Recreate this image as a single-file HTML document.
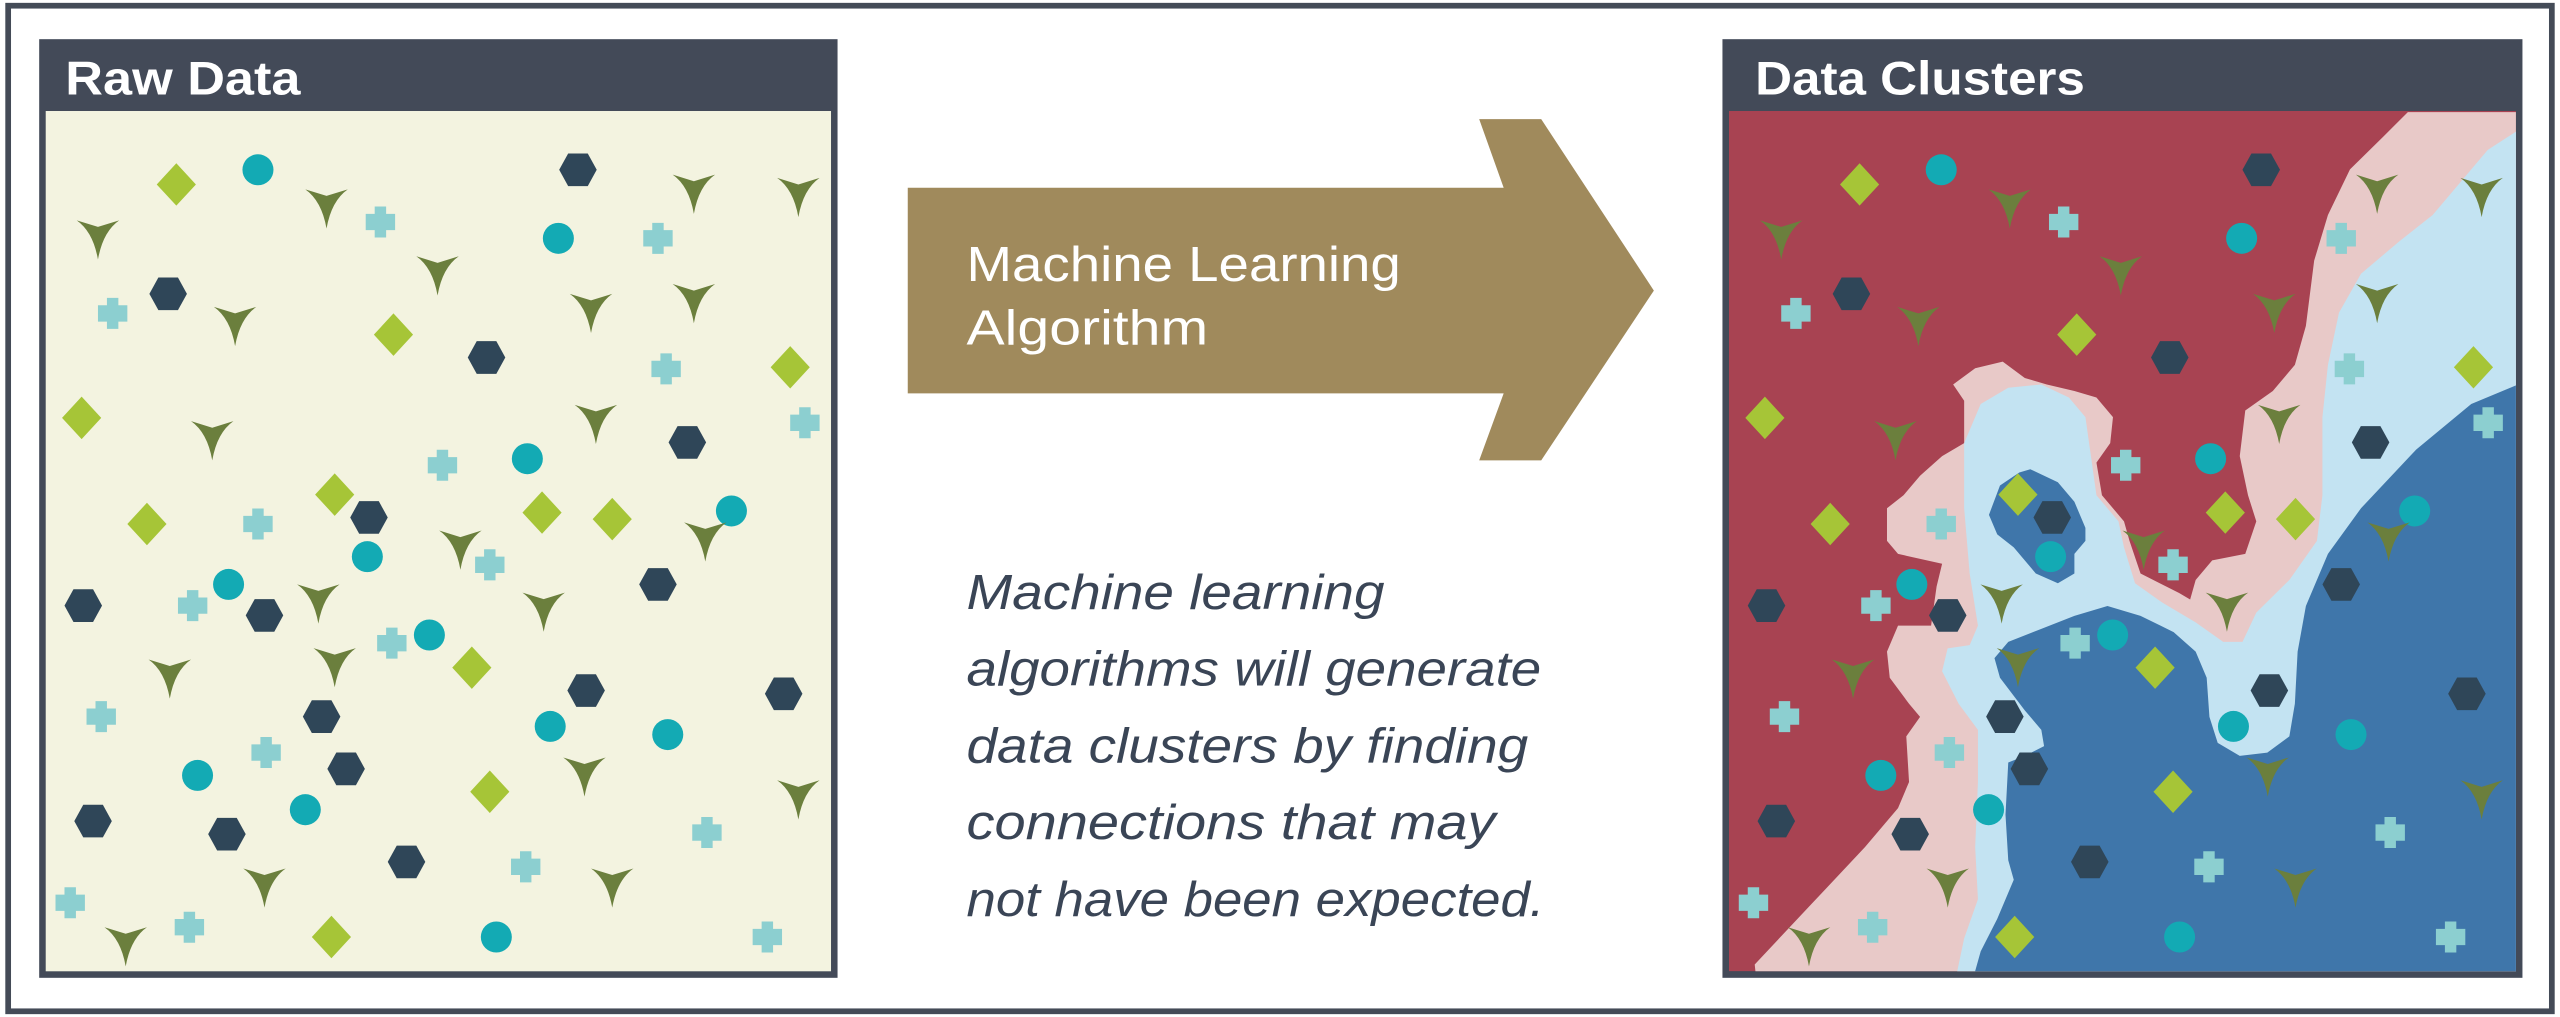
<!DOCTYPE html>
<html><head><meta charset="utf-8"><style>
html,body{margin:0;padding:0;background:#fff;width:2560px;height:1017px;overflow:hidden}
svg{display:block}
</style></head><body>
<svg width="2560" height="1017" viewBox="0 0 1568 623" preserveAspectRatio="none" xmlns="http://www.w3.org/2000/svg">
<defs>
<polygon id="dm" points="0,-13 12,0 0,13 -12,0" fill="#a6c537"/>
<circle id="ci" r="9.5" fill="#13aab4"/>
<polygon id="hx" points="-11.5,0 -6,-10 6,-10 11.5,0 6,10 -6,10" fill="#2f4658"/>
<polygon id="cr" points="-3.5,-9.5 3.5,-9.5 3.5,-5 9,-5 9,5 3.5,5 3.5,9.5 -3.5,9.5 -3.5,5 -9,5 -9,-5 -3.5,-5" fill="#8ccfd0"/>
<path id="yy" d="M-13,-10 L0,-6 L13,-10 Q3,-3 0,14 Q-3,-3 -13,-10 Z" fill="#6b7f3d"/>
<g id="pts">
<use href="#dm" x="108" y="113"/><use href="#dm" x="241" y="205"/><use href="#dm" x="50" y="256"/><use href="#dm" x="90" y="321"/><use href="#dm" x="205" y="303"/><use href="#dm" x="332" y="314"/><use href="#dm" x="375" y="318"/><use href="#dm" x="289" y="409"/><use href="#dm" x="484" y="225"/><use href="#dm" x="300" y="485"/><use href="#dm" x="203" y="574"/>
<use href="#ci" x="158" y="104"/><use href="#ci" x="342" y="146"/><use href="#ci" x="323" y="281"/><use href="#ci" x="448" y="313"/><use href="#ci" x="225" y="341"/><use href="#ci" x="140" y="358"/><use href="#ci" x="263" y="389"/><use href="#ci" x="337" y="445"/><use href="#ci" x="409" y="450"/><use href="#ci" x="121" y="475"/><use href="#ci" x="187" y="496"/><use href="#ci" x="304" y="574"/>
<use href="#hx" x="354" y="104"/><use href="#hx" x="103" y="180"/><use href="#hx" x="298" y="219"/><use href="#hx" x="421" y="271"/><use href="#hx" x="226" y="317"/><use href="#hx" x="162" y="377"/><use href="#hx" x="51" y="371"/><use href="#hx" x="403" y="358"/><use href="#hx" x="359" y="423"/><use href="#hx" x="197" y="439"/><use href="#hx" x="212" y="471"/><use href="#hx" x="480" y="425"/><use href="#hx" x="57" y="503"/><use href="#hx" x="139" y="511"/><use href="#hx" x="249" y="528"/>
<use href="#cr" x="233" y="136"/><use href="#cr" x="403" y="146"/><use href="#cr" x="69" y="192"/><use href="#cr" x="408" y="226"/><use href="#cr" x="493" y="259"/><use href="#cr" x="271" y="285"/><use href="#cr" x="158" y="321"/><use href="#cr" x="300" y="346"/><use href="#cr" x="118" y="371"/><use href="#cr" x="240" y="394"/><use href="#cr" x="62" y="439"/><use href="#cr" x="163" y="461"/><use href="#cr" x="433" y="510"/><use href="#cr" x="322" y="531"/><use href="#cr" x="43" y="553"/><use href="#cr" x="116" y="568"/><use href="#cr" x="470" y="574"/>
<use href="#yy" x="200" y="126"/><use href="#yy" x="60" y="145"/><use href="#yy" x="268" y="167"/><use href="#yy" x="489" y="119"/><use href="#yy" x="425" y="117"/><use href="#yy" x="144" y="198"/><use href="#yy" x="362" y="190"/><use href="#yy" x="425" y="184"/><use href="#yy" x="130" y="268"/><use href="#yy" x="365" y="258"/><use href="#yy" x="282" y="335"/><use href="#yy" x="432" y="330"/><use href="#yy" x="195" y="368"/><use href="#yy" x="333" y="373"/><use href="#yy" x="205" y="407"/><use href="#yy" x="104" y="414"/><use href="#yy" x="358" y="474"/><use href="#yy" x="489" y="488"/><use href="#yy" x="162" y="542"/><use href="#yy" x="375" y="542"/><use href="#yy" x="77" y="578"/>
</g>
<clipPath id="rc"><rect x="1059" y="68" width="482" height="527"/></clipPath>
</defs>

<rect x="5" y="3.5" width="1558" height="616" fill="none" stroke="#444b57" stroke-width="3.5"/>

<!-- left panel -->
<rect x="24" y="24" width="489" height="575" fill="#434a58"/>
<rect x="28" y="68" width="481" height="527" fill="#f3f3e0"/>
<text x="40" y="58" font-family="Liberation Sans, sans-serif" font-size="29" font-weight="bold" fill="#fff" textLength="144" lengthAdjust="spacingAndGlyphs">Raw Data</text>
<use href="#pts"/>

<!-- right panel -->
<rect x="1055" y="24" width="490" height="575" fill="#434a58"/>
<text x="1075" y="58" font-family="Liberation Sans, sans-serif" font-size="29" font-weight="bold" fill="#fff" textLength="202" lengthAdjust="spacingAndGlyphs">Data Clusters</text>
<g clip-path="url(#rc)">
<rect x="1059" y="68" width="482" height="527" fill="#a84352"/>
<g transform="translate(1041,0) scale(0.3376,0.3992)">
<polygon fill="#e8c9c8" points="1285,172 1240,210 1180,260 1140,330 1115,400 1100,500 1080,560 1040,600 990,630 980,700 995,760 1010,800 990,850 930,860 900,890 890,920 870,910 800,880 780,830 770,800 730,760 720,710 745,680 750,640 720,610 680,600 630,590 590,580 550,555 500,565 460,590 480,615 480,680 440,700 400,730 370,760 340,780 340,830 360,850 440,865 430,900 420,960 360,960 340,1000 345,1040 380,1080 400,1100 375,1130 380,1200 360,1240 300,1300 200,1390 100,1480 105,1520 1520,1520 1520,172"/>
<polygon fill="#c3e3f2" points="1520,190 1485,200 1430,230 1330,330 1270,370 1200,420 1160,480 1140,560 1130,640 1130,760 1120,830 1070,890 1010,940 985,985 950,985 900,955 840,925 790,895 770,840 760,800 720,760 710,700 700,640 670,610 620,590 560,595 510,620 480,680 480,780 490,880 505,960 490,990 450,995 440,1030 470,1080 505,1120 505,1200 500,1300 505,1380 480,1440 460,1520 1520,1520"/>
<polygon fill="#3f76aa" points="1520,580 1485,590 1400,620 1300,690 1200,780 1140,850 1100,930 1085,1000 1080,1080 1070,1130 1030,1155 980,1160 940,1140 925,1100 920,1040 900,1000 860,970 800,945 740,930 680,945 620,965 560,985 535,1010 545,1040 590,1090 620,1120 625,1145 590,1160 560,1170 555,1250 560,1320 570,1350 540,1410 510,1460 490,1520 1520,1520"/>
<polygon fill="#3f76aa" points="600,720 650,740 680,770 700,810 700,830 680,850 680,880 650,895 610,880 570,840 540,820 525,790 545,745 580,725"/>
</g>
<use href="#pts" x="1031"/>
</g>

<!-- arrow -->
<polygon points="556,115 921,115 906,73 944,73 1013,178 944,282 906,282 921,241 556,241" fill="#a08a5c"/>
<text font-family="Liberation Sans, sans-serif" font-size="30" fill="#fff">
<tspan x="592" y="172" textLength="266" lengthAdjust="spacingAndGlyphs">Machine Learning</tspan>
<tspan x="592" y="211" textLength="148" lengthAdjust="spacingAndGlyphs">Algorithm</tspan>
</text>
<text font-family="Liberation Sans, sans-serif" font-size="30" font-style="italic" fill="#3a4556">
<tspan x="592" y="373" textLength="256" lengthAdjust="spacingAndGlyphs">Machine learning</tspan>
<tspan x="592" y="420" textLength="352" lengthAdjust="spacingAndGlyphs">algorithms will generate</tspan>
<tspan x="592" y="467" textLength="344" lengthAdjust="spacingAndGlyphs">data clusters by finding</tspan>
<tspan x="592" y="514" textLength="324" lengthAdjust="spacingAndGlyphs">connections that may</tspan>
<tspan x="592" y="561" textLength="354" lengthAdjust="spacingAndGlyphs">not have been expected.</tspan>
</text>
</svg>
</body></html>
